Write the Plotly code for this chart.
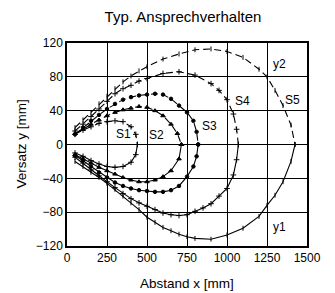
import plotly.graph_objects as go

# ---- data ----
s1_up_x = [50, 100, 150, 200, 250, 300, 350, 400, 430, 440]
s1_up_y = [12, 17, 21, 25, 27, 28, 27, 21, 12, 0]
s1_lo_x = [440, 430, 400, 350, 300, 250, 200, 150, 100, 50]
s1_lo_y = [0, -12, -21, -26, -27, -26, -23, -19, -14, -10]

s2_up_x = [50, 100, 150, 200, 250, 300, 350, 400, 450, 500, 550, 600, 650, 690, 715]
s2_up_y = [13, 18, 24, 29, 34, 38, 41, 43, 45, 44, 40, 34, 24, 13, 0]
s2_lo_x = [715, 700, 650, 600, 550, 500, 450, 400, 350, 300, 250, 200, 150, 100, 50]
s2_lo_y = [0, -17, -31, -38, -42, -44, -44, -42, -39, -35, -31, -27, -22, -17, -12]

s3_up_x = [50, 100, 150, 200, 250, 300, 350, 400, 450, 500, 550, 600, 650, 700, 750, 790, 810, 820]
s3_up_y = [12, 20, 28, 35, 42, 48, 53, 56, 58, 59, 60, 59, 54, 46, 38, 28, 15, 0]
s3_lo_x = [820, 810, 790, 750, 700, 650, 600, 550, 500, 450, 400, 350, 300, 250, 200, 150, 100, 50]
s3_lo_y = [0, -14, -26, -38, -49, -54, -56, -56, -55, -54, -52, -49, -45, -39, -33, -26, -19, -13]

s4_up_x = [50, 100, 150, 200, 250, 300, 350, 400, 450, 500, 600, 700, 800, 900, 950, 1000, 1040, 1060, 1071]
s4_up_y = [16, 24, 33, 42, 51, 60, 66, 70, 75, 78, 84, 86, 82, 72, 64, 53, 36, 18, 0]
s4_lo_x = [1071, 1060, 1040, 1000, 950, 900, 850, 800, 750, 700, 650, 600, 550, 500, 450, 400, 350, 300, 250, 200, 150, 100, 50]
s4_lo_y = [0, -18, -36, -52, -61, -70, -75, -79, -83, -84, -83, -81, -77, -73, -69, -64, -58, -51, -44, -37, -30, -22, -15]

s5_up_x = [50, 100, 150, 200, 250, 300, 350, 400, 450, 500, 600, 700, 800, 900, 1000, 1100, 1200, 1250, 1300, 1350, 1400, 1425]
s5_up_y = [20, 29, 38, 48, 57, 66, 74, 81, 87, 92, 101, 107, 112, 113, 110, 103, 89, 80, 64, 46, 23, 0]
s5_lo_x = [1425, 1400, 1350, 1300, 1250, 1200, 1100, 1000, 900, 800, 750, 700, 650, 600, 550, 500, 450, 400, 350, 300, 250, 200, 150, 100, 50]
s5_lo_y = [0, -20, -44, -60, -72, -85, -99, -107, -112, -111, -109, -106, -102, -98, -92, -86, -77, -69, -61, -53, -46, -39, -33, -26, -20]

x_ticks = [0, 250, 500, 750, 1000, 1250, 1500]
y_ticks = [-120, -80, -40, 0, 40, 80, 120]

labels = ["S1", "S2", "S3", "S4", "S5", "y2", "y1"]
label_x = [352, 560, 890, 1095, 1408, 1330, 1330]
label_y = [12, 11, 22, 51, 53, 95, -97]

# ---- figure ----
FONT = "Liberation Sans, Arial, sans-serif"
series = [
    (s1_up_x, s1_up_y, s1_lo_x, s1_lo_y, "cross-thin", 4),
    (s2_up_x, s2_up_y, s2_lo_x, s2_lo_y, "triangle-up", 4),
    (s3_up_x, s3_up_y, s3_lo_x, s3_lo_y, "circle", 3.5),
    (s4_up_x, s4_up_y, s4_lo_x, s4_lo_y, "cross-thin", 4),
    (s5_up_x, s5_up_y, s5_lo_x, s5_lo_y, "line-ns", 3.5),
]

fig = go.Figure()
for ux, uy, lx, ly, sym, sz in series:
    mk = dict(symbol=sym, size=sz, color="black", line=dict(color="black", width=1))
    fig.add_trace(go.Scatter(x=ux, y=uy, mode="lines+markers",
                             line=dict(color="black", width=1.1, dash="7px,4px"),
                             marker=mk, showlegend=False, hoverinfo="skip"))
    fig.add_trace(go.Scatter(x=lx, y=ly, mode="lines+markers",
                             line=dict(color="black", width=1.1),
                             marker=mk, showlegend=False, hoverinfo="skip"))

for t, xx, yy in zip(labels, label_x, label_y):
    fig.add_annotation(x=xx, y=yy, text=t, showarrow=False,
                       xanchor="center", yanchor="middle",
                       font=dict(family=FONT, size=12, color="black"))

fig.add_annotation(xref="paper", yref="paper", x=0.5, y=0,
                   yshift=-37, text="Abstand x [mm]", showarrow=False,
                   xanchor="center", yanchor="middle",
                   font=dict(family=FONT, size=13.5, color="black"))
fig.add_annotation(xref="paper", yref="paper", x=0, y=0.5, xshift=-46,
                   text="Versatz y [mm]", showarrow=False, textangle=-90,
                   xanchor="center", yanchor="middle",
                   font=dict(family=FONT, size=13.5, color="black"))

# page body has an 8px margin, so the figure is sized/offset to compensate
fig.update_layout(
    width=327, height=285,
    margin=dict(l=59, r=28, t=35, b=47, autoexpand=False),
    paper_bgcolor="white", plot_bgcolor="white",
    title=dict(text="Typ. Ansprechverhalten", x=175 / 327, xanchor="center",
               y=1 - 9 / 285, yanchor="middle", yref="container",
               font=dict(family=FONT, size=15, color="black")),
    font=dict(family=FONT, size=12, color="black"),
)
fig.update_xaxes(range=[0, 1500], tickvals=x_ticks, ticks="", showgrid=True,
                 gridcolor="black", gridwidth=1, zeroline=False, automargin=False,
                 showline=True, linecolor="black", linewidth=1.5, mirror=True,
                 tickfont=dict(family=FONT, size=12, color="black"))
fig.update_yaxes(range=[-120, 120], tickvals=y_ticks, ticks="", showgrid=True,
                 gridcolor="black", gridwidth=1, zeroline=False, automargin=False,
                 showline=True, linecolor="black", linewidth=1.5, mirror=True,
                 tickfont=dict(family=FONT, size=12, color="black"))

fig.write_html("out.html")
